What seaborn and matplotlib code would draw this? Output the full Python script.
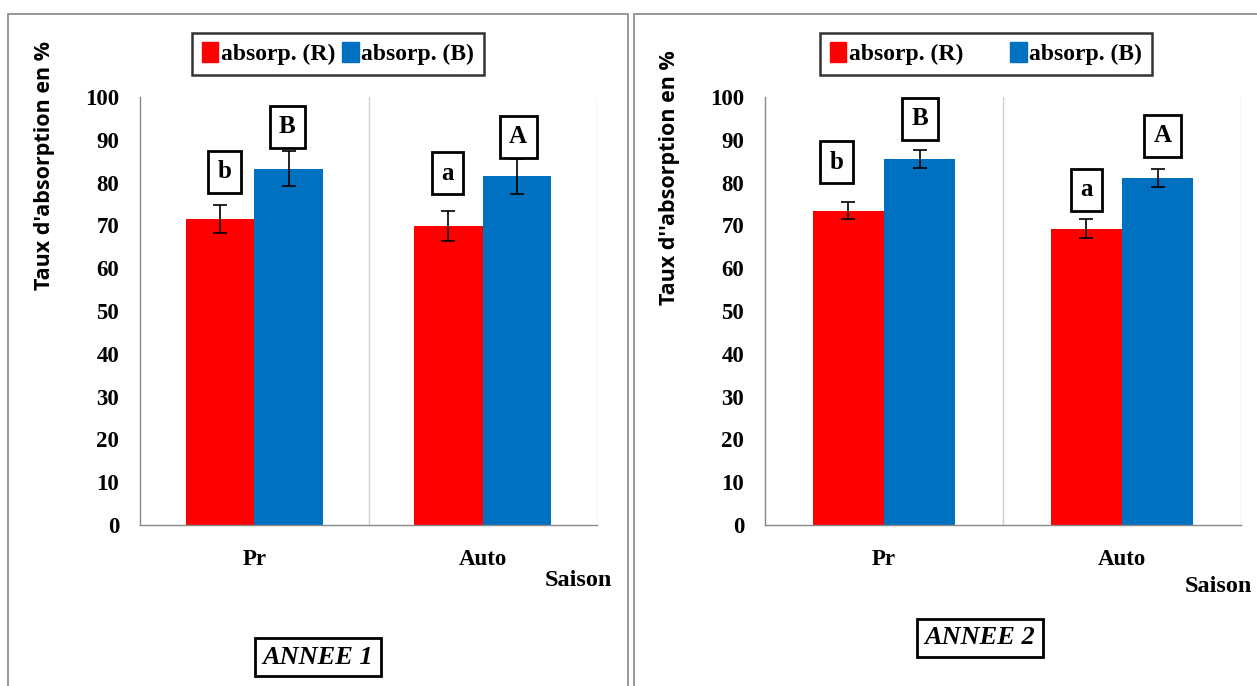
import numpy as np
import pandas as pd
import seaborn as sns
import matplotlib.pyplot as plt
from matplotlib.patches import Rectangle

# data
saisons = ['Pr', 'Auto']
series = ['absorp. (R)', 'absorp. (B)']
annee1_R = [71.5, 69.8]
annee1_B = [83.2, 81.5]
annee1_err_R = [3.2, 3.5]
annee1_err_B = [4.1, 4.1]
annee2_R = [73.4, 69.2]
annee2_B = [85.5, 81.1]
annee2_err_R = [2.0, 2.2]
annee2_err_B = [2.1, 2.1]
letters1 = ['b', 'a', 'B', 'A']          # order: R-Pr, R-Auto, B-Pr, B-Auto
letters1_y = [82.5, 82.2, 93.0, 90.7]
letters2 = ['b', 'a', 'B', 'A']
letters2_y = [84.8, 78.3, 94.9, 90.9]
yticks = list(range(0, 101, 10))

colors = ['#FF0000', '#0070C0']

sns.set_style('white')
plt.rcParams['font.family'] = ['Liberation Serif', 'DejaVu Serif']
plt.rcParams['text.color'] = 'black'
plt.rcParams['xtick.labelcolor'] = 'black'
plt.rcParams['ytick.labelcolor'] = 'black'

fig = plt.figure(figsize=(12.57, 6.86), dpi=100)
W, H = 1257, 686


def fx(px):
    return px / W


def fy(py):
    return 1 - py / H


def draw_panel(ax, vals_R, vals_B, err_R, err_B, letters, letters_y, letter_dx):
    df = pd.DataFrame({
        'Saison': saisons * 2,
        'serie': [series[0]] * 2 + [series[1]] * 2,
        'val': vals_R + vals_B,
    })
    sns.barplot(data=df, x='Saison', y='val', hue='serie', palette=colors,
                width=0.6, errorbar=None, ax=ax, saturation=1, legend=False,
                linewidth=0)
    errs = err_R + err_B
    vals = vals_R + vals_B
    for i, p in enumerate(ax.patches[:4]):
        cx = p.get_x() + p.get_width() / 2
        ax.errorbar(cx, vals[i], yerr=errs[i], color='black', capsize=5,
                    elinewidth=1.2, capthick=1.2)
        ax.text(cx + letter_dx[i], letters_y[i], letters[i], ha='center', va='center',
                fontsize=18, fontweight='bold', color='black',
                bbox=dict(boxstyle='square,pad=0.38', fc='white', ec='black', lw=2))
    ax.set_xlim(-0.5, 1.5)
    ax.set_ylim(0, 100)
    ax.set_yticks(yticks)
    ax.set_yticklabels([str(t) for t in yticks], fontsize=16.5, fontweight='bold')
    ax.set_xticks([0, 1])
    ax.set_xticklabels(saisons, fontsize=16.5, fontweight='bold')
    ax.set_xticks([-0.5, 0.5, 1.5], minor=True)
    ax.tick_params(axis='x', which='major', length=0, pad=17, labelcolor='black')
    ax.tick_params(axis='x', which='minor', length=7, direction='out', color='#888888', width=1)
    ax.tick_params(axis='y', length=10, direction='inout', color='#888888', width=1, pad=10,
                   labelcolor='black')
    for x in [0.5, 1.5]:
        ax.axvline(x, color='#d0d0d0', lw=1, zorder=0)
    for s in ['top', 'right']:
        ax.spines[s].set_visible(False)
    for s in ['left', 'bottom']:
        ax.spines[s].set_color('#888888')
        ax.spines[s].set_linewidth(1)
    ax.set_xlabel('')
    ax.set_ylabel('')


# panel borders
fig.patches.append(Rectangle((fx(8), fy(700)), fx(620), fy(14) - fy(700),
                             transform=fig.transFigure, fill=False, ec='#888888', lw=1.2))
fig.patches.append(Rectangle((fx(634), fy(700)), fx(640), fy(14) - fy(700),
                             transform=fig.transFigure, fill=False, ec='#888888', lw=1.2))

ax1 = fig.add_axes([fx(140), fy(525), fx(597 - 140), fy(97) - fy(525)])
draw_panel(ax1, annee1_R, annee1_B, annee1_err_R, annee1_err_B, letters1, letters1_y,
           [0.02, -0.005, -0.005, 0.005])
ax2 = fig.add_axes([fx(765), fy(525), fx(1241 - 765), fy(97) - fy(525)])
draw_panel(ax2, annee2_R, annee2_B, annee2_err_R, annee2_err_B, letters2, letters2_y,
           [-0.05, 0.0, 0.0, 0.02])

# legends
for ax, cx, spacing in [(ax1, 338, 0.3), (ax2, 986, 2.0)]:
    handles = [Rectangle((0, 0), 1, 1, color=c) for c in colors]
    leg = fig.legend(handles, series, loc='upper center',
                     bbox_to_anchor=(fx(cx), fy(33)), ncol=2, frameon=True,
                     fancybox=False, handlelength=0.7, handleheight=0.9,
                     handletextpad=0.1, columnspacing=spacing, borderaxespad=0,
                     prop={'size': 17, 'weight': 'bold'}, borderpad=0.4)
    leg.get_frame().set_edgecolor('black')
    leg.get_frame().set_linewidth(1.8)
    for t in leg.get_texts():
        t.set_color('black')

# y labels
fig.text(fx(45), fy(166), "Taux d'absorption en %", rotation=90, ha='center', va='center',
         fontsize=15.5, fontweight='bold', family='Open Sans')
fig.text(fx(670), fy(178), "Taux d''absorption en %", rotation=90, ha='center', va='center',
         fontsize=15.5, fontweight='bold', family='Open Sans')

# axis titles
fig.text(fx(578), fy(581), 'Saison', ha='center', va='center', fontsize=17.5, fontweight='bold')
fig.text(fx(1218), fy(587), 'Saison', ha='center', va='center', fontsize=17.5, fontweight='bold')

# year labels
for cx, cy, txt in [(318, 657, 'ANNEE 1'), (980, 638, 'ANNEE 2')]:
    fig.text(fx(cx), fy(cy), txt, ha='center', va='center', fontsize=19,
             fontweight='bold', fontstyle='italic',
             bbox=dict(boxstyle='square,pad=0.28', fc='white', ec='black', lw=2))

fig.savefig('out.png', dpi=100)
